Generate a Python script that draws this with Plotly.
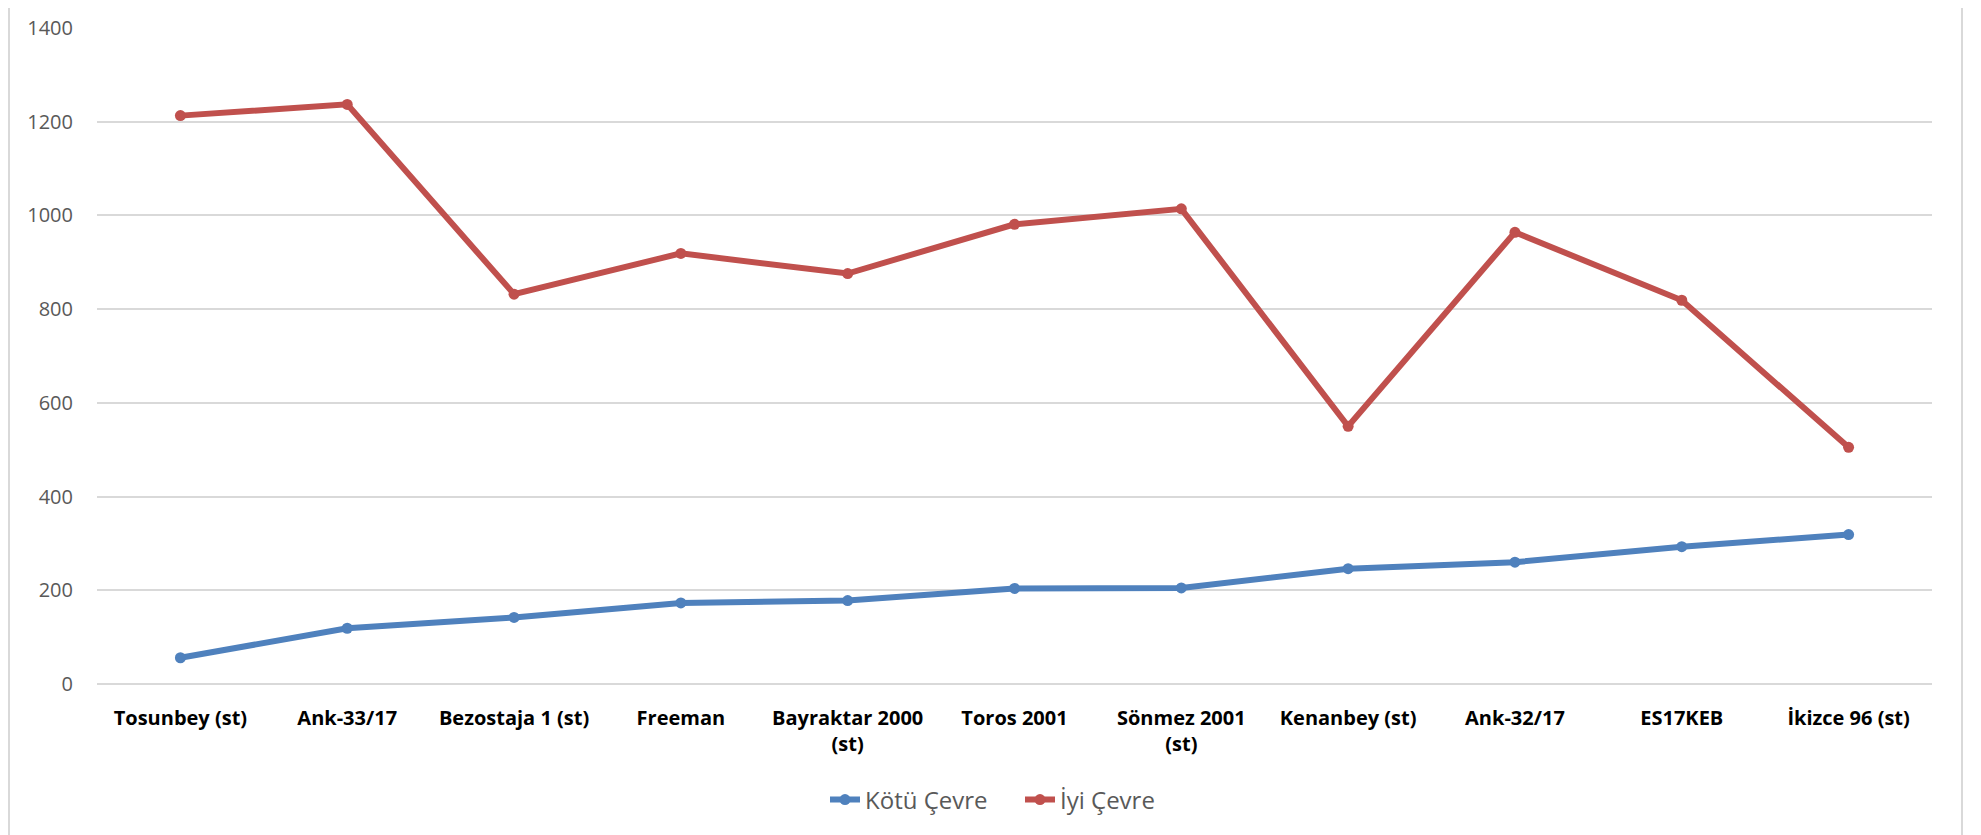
import plotly.graph_objects as go

categories = ["Tosunbey (st)", "Ank-33/17", "Bezostaja 1 (st)", "Freeman",
              "Bayraktar 2000<br>(st)", "Toros 2001", "Sönmez 2001<br>(st)",
              "Kenanbey (st)", "Ank-32/17", "ES17KEB", "İkizce 96 (st)"]
kotu_cevre = [56, 119, 142, 173, 178, 204, 205, 246, 260, 293, 319]
iyi_cevre = [1213, 1237, 832, 919, 876, 981, 1014, 550, 964, 819, 505]
y_ticks = [0, 200, 400, 600, 800, 1000, 1200, 1400]

W, H = 1981, 835
# page has an 8px body offset; margins compensate
ml, mr, mt, mb = 89, 57, 20, 159

fig = go.Figure()
fig.add_trace(go.Scatter(x=categories, y=kotu_cevre, name="Kötü Çevre",
                         mode="lines+markers",
                         line=dict(color="#4F81BD", width=6),
                         marker=dict(color="#4F81BD", size=11)))
fig.add_trace(go.Scatter(x=categories, y=iyi_cevre, name="İyi Çevre",
                         mode="lines+markers",
                         line=dict(color="#C0504D", width=6),
                         marker=dict(color="#C0504D", size=11)))

pw = W - ml - mr
ph = H - mt - mb
for px in (1, 1954):
    xp = (px - ml) / pw
    fig.add_shape(type="line", xref="paper", yref="paper",
                  x0=xp, x1=xp, y0=-mb / ph, y1=1 + mt / ph,
                  line=dict(color="#D9D9D9", width=2))

fig.update_layout(
    width=W, height=H,
    margin=dict(l=ml, r=mr, t=mt, b=mb),
    paper_bgcolor="white", plot_bgcolor="white",
    font=dict(family="Open Sans", color="#595959"),
    showlegend=True,
    legend=dict(orientation="h", x=(1012 - ml) / pw, xanchor="center",
                y=(676 - 792) / ph, yanchor="middle",
                font=dict(size=24, color="#595959"),
                entrywidth=150, entrywidthmode="pixels",
                tracegroupgap=0),
    xaxis=dict(type="category", range=[-0.5, len(categories) - 0.5],
               showgrid=False, showline=False, zeroline=False,
               automargin=False,
               tickfont=dict(family="Open Sans", size=20, color="#000000",
                             weight="bold"),
               ticklabelstandoff=20),
    yaxis=dict(range=[0, 1400], tickvals=y_ticks,
               showgrid=True, gridcolor="#D9D9D9", gridwidth=2,
               zeroline=True, zerolinecolor="#D9D9D9", zerolinewidth=2,
               showline=False, automargin=False,
               tickfont=dict(family="Open Sans", size=20, color="#595959"),
               ticklabelstandoff=23),
)

fig.write_html("out.html")
